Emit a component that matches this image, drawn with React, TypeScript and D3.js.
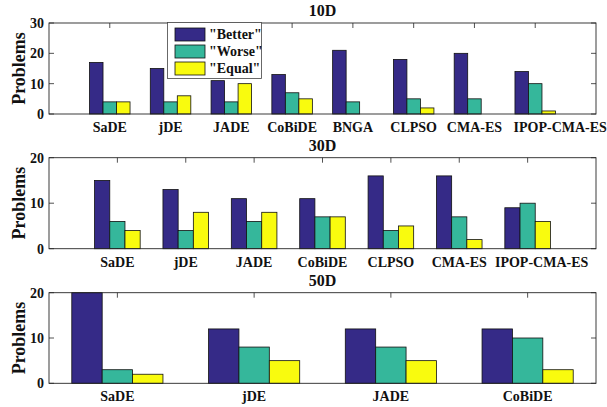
import React from "react";
import * as d3 from "d3";

const cats10 = ["SaDE", "jDE", "JADE", "CoBiDE", "BNGA", "CLPSO", "CMA-ES", "IPOP-CMA-ES"];
const better10 = [17, 15, 11, 13, 21, 18, 20, 14];
const worse10 = [4, 4, 4, 7, 4, 5, 5, 10];
const equal10 = [4, 6, 10, 5, 0, 2, 0, 1];
const yTicks10 = [0, 10, 20, 30];

const cats30 = ["SaDE", "jDE", "JADE", "CoBiDE", "CLPSO", "CMA-ES", "IPOP-CMA-ES"];
const better30 = [15, 13, 11, 11, 16, 16, 9];
const worse30 = [6, 4, 6, 7, 4, 7, 10];
const equal30 = [4, 8, 8, 7, 5, 2, 6];
const yTicks30 = [0, 10, 20];

const cats50 = ["SaDE", "jDE", "JADE", "CoBiDE"];
const better50 = [20, 12, 12, 12];
const worse50 = [3, 8, 8, 10];
const equal50 = [2, 5, 5, 3];
const yTicks50 = [0, 10, 20];

const seriesNames = ['"Better"', '"Worse"', '"Equal"'];
const colors = ["#352a87", "#35b79b", "#f9fb0e"];

const FONT = "'Liberation Serif', 'Times New Roman', serif";
const AX = "#262626";

type PanelProps = {
  title: string;
  cats: string[];
  series: number[][];
  yTicks: number[];
  xDomain: [number, number];
  top: number;
  bottom: number;
  lastLabelDx: number;
  legend?: boolean;
};

const LEFT = 49;
const RIGHT = 596;

function Panel({ title, cats, series, yTicks, xDomain, top, bottom, lastLabelDx, legend }: PanelProps) {
  const x = d3.scaleLinear().domain(xDomain).range([LEFT, RIGHT]);
  const y = d3.scaleLinear().domain([0, yTicks[yTicks.length - 1]]).range([bottom, top]);
  const bw = 2 / 9; // bar width in category units
  const tickLen = 5;
  return (
    <g>
      <text x={(LEFT + RIGHT) / 2} y={top - 7} textAnchor="middle" fontFamily={FONT} fontWeight="bold" fontSize={16} fill="#111">
        {title}
      </text>
      <text
        transform={`translate(25,${(top + bottom) / 2}) rotate(-90)`}
        textAnchor="middle"
        fontFamily={FONT}
        fontWeight="bold"
        fontSize={18}
        fill="#111"
      >
        Problems
      </text>
      <rect x={LEFT} y={top} width={RIGHT - LEFT} height={bottom - top} fill="#fff" />
      {yTicks.map((t) => (
        <g key={"yt" + t}>
          <text x={LEFT - 5} y={y(t)} dy="0.35em" textAnchor="end" fontFamily={FONT} fontWeight="bold" fontSize={14} fill="#111">
            {t}
          </text>
          <line x1={LEFT} x2={LEFT + tickLen} y1={y(t)} y2={y(t)} stroke={AX} strokeWidth={0.8} />
          <line x1={RIGHT} x2={RIGHT - tickLen} y1={y(t)} y2={y(t)} stroke={AX} strokeWidth={0.8} />
        </g>
      ))}
      {cats.map((c, i) => (
        <g key={"xt" + c}>
          <line x1={x(i + 1)} x2={x(i + 1)} y1={top} y2={top + tickLen} stroke={AX} strokeWidth={0.8} />
          <line x1={x(i + 1)} x2={x(i + 1)} y1={bottom} y2={bottom - tickLen} stroke={AX} strokeWidth={0.8} />
        </g>
      ))}
      {series.map((vals, k) =>
        vals.map((v, i) => {
          if (v <= 0) return null;
          const cx = i + 1 + (k - 1) * bw;
          const x0 = x(cx - bw / 2);
          const x1 = x(cx + bw / 2);
          return (
            <rect
              key={`b${k}-${i}`}
              x={x0}
              y={y(v)}
              width={x1 - x0}
              height={y(0) - y(v)}
              fill={colors[k]}
              stroke="#111"
              strokeWidth={0.8}
            />
          );
        })
      )}
      <rect x={LEFT} y={top} width={RIGHT - LEFT} height={bottom - top} fill="none" stroke={AX} strokeWidth={0.9} />
      {cats.map((c, i) => (
        <text
          key={"xl" + c}
          x={x(i + 1) + (i === cats.length - 1 ? lastLabelDx : 0)}
          y={bottom + 18}
          textAnchor="middle"
          fontFamily={FONT}
          fontWeight="bold"
          fontSize={14}
          fill="#111"
        >
          {c}
        </text>
      ))}
      {legend && (
        <g>
          <rect x={167.5} y={22.5} width={94} height={56} fill="#fff" stroke="#444" strokeWidth={0.8} />
          {seriesNames.map((n, k) => (
            <g key={n}>
              <rect x={175} y={28 + k * 17} width={30} height={13} fill={colors[k]} stroke="#111" strokeWidth={0.8} />
              <text x={209} y={34.5 + k * 17} dy="0.35em" fontFamily={FONT} fontWeight="bold" fontSize={14} fill="#111">
                {n}
              </text>
            </g>
          ))}
        </g>
      )}
    </g>
  );
}

export default function App() {
  return (
    <svg width={607} height={407} style={{ position: "absolute", left: 0, top: 0, background: "#fff" }}>
      <rect width={607} height={407} fill="#fff" />
      <Panel
        title="10D"
        cats={cats10}
        series={[better10, worse10, equal10]}
        yTicks={yTicks10}
        xDomain={[0, 9]}
        top={23}
        bottom={114}
        lastLabelDx={25}
        legend
      />
      <Panel
        title="30D"
        cats={cats30}
        series={[better30, worse30, equal30]}
        yTicks={yTicks30}
        xDomain={[0, 8]}
        top={157.7}
        bottom={248.7}
        lastLabelDx={14}
      />
      <Panel
        title="50D"
        cats={cats50}
        series={[better50, worse50, equal50]}
        yTicks={yTicks50}
        xDomain={[0.5, 4.5]}
        top={292.7}
        bottom={383.3}
        lastLabelDx={0}
      />
    </svg>
  );
}
